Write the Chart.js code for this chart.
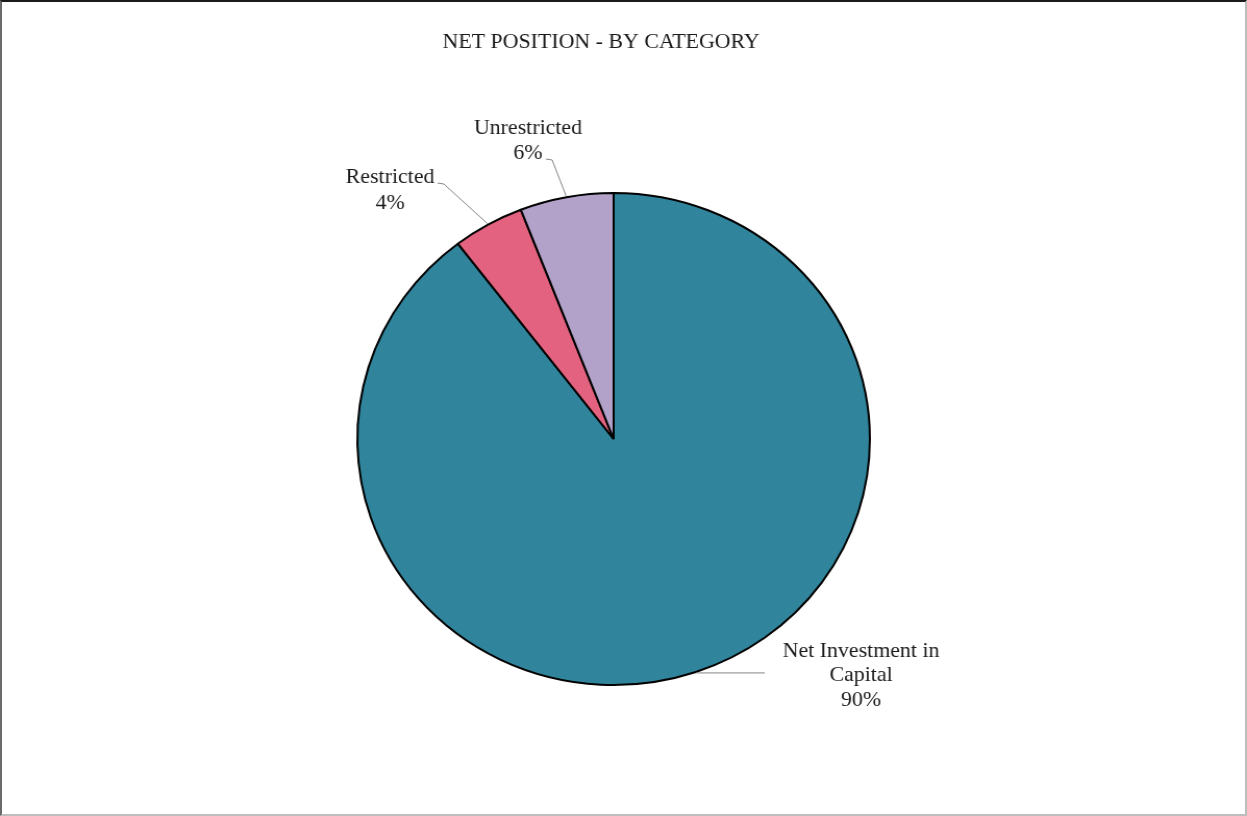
<!DOCTYPE html>
<html>
<head>
<meta charset="utf-8">
<script src="https://cdn.jsdelivr.net/npm/chart.js@4/dist/chart.umd.min.js"></script>
<style>
    html, body { margin: 0; padding: 0; background: #fff; overflow: hidden; }
    #wrap { position: relative; width: 1247px; height: 816px; }
    #stretch { position: absolute; left: 0; top: 0; width: 1197px; height: 816px; transform: scaleX(1.0418); transform-origin: 0 0; }
    #frame { position: absolute; left: 0; top: 0; width: 1247px; height: 816px; box-sizing: border-box;
             border-top: 2px solid #1a1a1a; border-left: 2px solid #6a6a6a; border-right: 2px solid #bdbdbd; border-bottom: 2px solid #bdbdbd; }
</style>
</head>
<body>
<div id="wrap">
    <div id="stretch"><canvas id="pie" width="1197" height="816"></canvas></div>
    <div id="frame"></div>
</div>
<script>
// Net position by category
const chartTitle = 'NET POSITION - BY CATEGORY';
const categories = ['Net Investment in Capital', 'Restricted', 'Unrestricted'];
const labelLines = [['Net Investment in', 'Capital'], ['Restricted'], ['Unrestricted']];
const shares = [89.6, 4.5, 5.9];
const pctLabels = ['90%', '4%', '6%'];
const sliceColors = ['#30859c', '#e2627f', '#b2a2ca'];

const FONT = '21px "Liberation Serif", "Times New Roman", serif';
const TEXT_COLOR = '#1a1a1a';

// where each outside label sits and how its leader line bends
const labelSpots = [
    { x: 826.5, y: 651, step: 24.5, bends: [[734, null]] },
    { x: 374.4, y: 177, step: 26, bends: [[426, 184], [420, 183]] },
    { x: 506.8, y: 128, step: 25.5, bends: [[530, 160], [524, 159]] }
];

const textPlugin = {
    id: 'pieText',
    afterDraw(chart) {
        const ctx = chart.ctx;
        ctx.save();
        ctx.font = FONT;
        ctx.fillStyle = TEXT_COLOR;
        ctx.textAlign = 'center';
        ctx.textBaseline = 'middle';
        ctx.fillText(chartTitle, 577, 42);

        const arcs = chart.getDatasetMeta(0).data;
        arcs.forEach((arc, i) => {
            const spot = labelSpots[i];
            const mid = (arc.startAngle + arc.endAngle) / 2;
            const ex = arc.x + Math.cos(mid) * (arc.outerRadius + 1);
            const ey = arc.y + Math.sin(mid) * (arc.outerRadius + 1);

            ctx.strokeStyle = '#858585';
            ctx.lineWidth = 1;
            ctx.beginPath();
            ctx.moveTo(ex, ey);
            spot.bends.forEach(b => ctx.lineTo(b[0], b[1] === null ? ey : b[1]));
            ctx.stroke();

            const lines = labelLines[i].concat([pctLabels[i]]);
            lines.forEach((t, k) => ctx.fillText(t, spot.x, spot.y + k * spot.step));
        });
        ctx.restore();
    }
};

new Chart(document.getElementById('pie').getContext('2d'), {
    type: 'pie',
    data: {
        labels: categories,
        datasets: [{
            data: shares,
            backgroundColor: sliceColors,
            borderColor: '#000',
            borderWidth: 2
        }]
    },
    options: {
        responsive: false,
        animation: false,
        layout: { padding: { top: 192, bottom: 130, left: 289, right: 308 } },
        plugins: { legend: { display: false }, tooltip: { enabled: false }, title: { display: false } }
    },
    plugins: [textPlugin]
});
</script>
</body>
</html>
